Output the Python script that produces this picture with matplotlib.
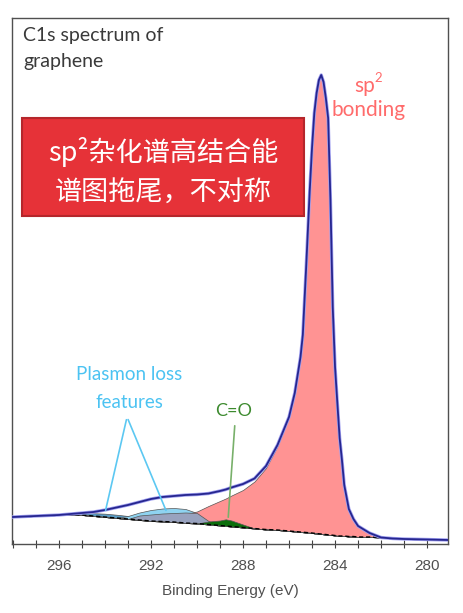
import matplotlib
matplotlib.use("Agg")
import matplotlib.pyplot as plt
from matplotlib.patches import Rectangle
from matplotlib.ticker import MultipleLocator

# binding energy grid (eV)
energy = [298.0, 297.5, 297.0, 296.5, 296.0, 295.5, 295.0, 294.5, 294.0, 293.5,
          293.0, 292.5, 292.0, 291.5, 291.0, 290.5, 290.0, 289.5, 289.0, 288.75,
          288.5, 288.0, 287.5, 287.0, 286.5, 286.0, 285.75, 285.5, 285.4, 285.25,
          285.1, 285.0, 284.9, 284.8, 284.7, 284.6, 284.5, 284.4, 284.3, 284.2,
          284.1, 284.0, 283.9, 283.8, 283.7, 283.6, 283.4, 283.2, 283.0, 282.5,
          282.0, 281.5, 281.0, 280.0, 279.1]

envelope = [2600, 2650, 2700, 2750, 2800, 2900, 3000, 3100, 3300, 3550,
            3800, 4100, 4400, 4600, 4700, 4800, 4850, 4950, 5200, 5350,
            5550, 5900, 6450, 7700, 9800, 12600, 15000, 18600, 20800, 27800,
            35200, 39500, 43000, 45000, 46300, 46800, 46100, 44500, 42500, 34300,
            23600, 17600, 14000, 10500, 8300, 5800, 3400, 2400, 1700, 1000,
            550, 450, 400, 350, 300]

# Shirley background
background = [2600, 2650, 2700, 2750, 2800, 2850, 2800, 2700, 2600, 2500,
              2400, 2300, 2200, 2150, 2100, 2000, 1950, 1850, 1750, 1700,
              1650, 1550, 1450, 1350, 1300, 1200, 1150, 1100, 1080, 1050,
              1020, 1000, 970, 950, 920, 900, 870, 850, 820, 800,
              780, 750, 720, 700, 700, 700, 650, 650, 600, 600,
              550, 450, 400, 350, 300]

# fitted components (upper edge)
sp2 = [2600, 2650, 2700, 2750, 2800, 2850, 2800, 2700, 2600, 2500,
       2400, 2300, 2400, 2550, 2700, 2900, 3150, 3700, 4200, 4450,
       4750, 5300, 6150, 7500, 9700, 12600, 15000, 18600, 20800, 27800,
       35200, 39500, 43000, 45000, 46300, 46800, 46100, 44500, 42500, 34300,
       23600, 17600, 14000, 10500, 8300, 5800, 3400, 2400, 1700, 1000,
       550, 450, 400, 350, 300]

plasmon_far = [2600, 2650, 2700, 2750, 2800, 2900, 2950, 2980, 2930, 2830,
               2700, 2500, 2280, 2150, 2100, 2000, 1950, 1850, 1750, 1700,
               1650, 1550, 1450, 1350, 1300, 1200, 1150, 1100, 1080, 1050,
               1020, 1000, 970, 950, 920, 900, 870, 850, 820, 800,
               780, 750, 720, 700, 700, 700, 650, 650, 600, 600,
               550, 450, 400, 350, 300]

plasmon_near = [2600, 2650, 2700, 2750, 2800, 2850, 2800, 2700, 2600, 2500,
                2700, 3050, 3300, 3450, 3500, 3400, 3000, 2500, 2000, 1700,
                1650, 1550, 1450, 1350, 1300, 1200, 1150, 1100, 1080, 1050,
                1020, 1000, 970, 950, 920, 900, 870, 850, 820, 800,
                780, 750, 720, 700, 700, 700, 650, 650, 600, 600,
                550, 450, 400, 350, 300]

shakeup = [2600, 2650, 2700, 2750, 2800, 2850, 2800, 2700, 2600, 2500,
           2400, 2750, 2850, 2950, 3000, 3050, 3000, 2200, 1750, 1700,
           1650, 1550, 1450, 1350, 1300, 1200, 1150, 1100, 1080, 1050,
           1020, 1000, 970, 950, 920, 900, 870, 850, 820, 800,
           780, 750, 720, 700, 700, 700, 650, 650, 600, 600,
           550, 450, 400, 350, 300]

c_o = [2600, 2650, 2700, 2750, 2800, 2850, 2800, 2700, 2600, 2500,
       2400, 2300, 2200, 2150, 2100, 2000, 1950, 2150, 2250, 2370,
       2250, 1850, 1450, 1350, 1300, 1200, 1150, 1100, 1080, 1050,
       1020, 1000, 970, 950, 920, 900, 870, 850, 820, 800,
       780, 750, 720, 700, 700, 700, 650, 650, 600, 600,
       550, 450, 400, 350, 300]

xticks_major = [296, 292, 288, 284, 280]

W, H = 464, 613
plt.rcParams['font.family'] = ['Lato', 'Noto Sans CJK SC', 'DejaVu Sans']

fig = plt.figure(figsize=(W / 100, H / 100), dpi=100)
ax = fig.add_axes([12 / W, 1 - 544 / H, 436 / W, 526 / H])


def fx(x):
    return x / W


def fy(y):
    return 1 - y / H


edge = dict(edgecolor='#555555', linewidth=0.5)
ax.fill_between(energy, background, plasmon_far, facecolor='#5a9cc4', zorder=1, **edge)
ax.fill_between(energy, background, plasmon_near, facecolor='#8fd3f0', zorder=2, **edge)
ax.fill_between(energy, background, sp2, facecolor='#ff9393', zorder=3, **edge)
ax.fill_between(energy, background, shakeup, facecolor='#98a2be', zorder=4, **edge)
ax.fill_between(energy, background, c_o, facecolor='#0b6e0b', zorder=5, **edge)
ax.plot(energy, background, color='black', lw=1, ls=(0, (3, 2)), zorder=6)
ax.plot(energy, envelope, color='#a0a0f0', lw=2.4, zorder=7)
ax.plot(energy, envelope, color='#26268f', lw=1.3, zorder=8)

ax.set_xlim(298.04, 279.09)
ax.set_ylim(-100, 52500)
ax.set_yticks([])
ax.set_xticks(xticks_major)
ax.xaxis.set_minor_locator(MultipleLocator(1))
ax.tick_params(axis='x', which='both', direction='inout', length=6, width=0.8,
               color='#404040', labelsize=11, labelcolor='#505050', pad=8)
for lbl in ax.get_xticklabels():
    lbl.set_family('Liberation Sans')
for s in ax.spines.values():
    s.set_color('#505050')
    s.set_linewidth(1)
ax.set_xlabel('Binding Energy (eV)', family='Liberation Sans', fontsize=11,
              color='#505050', labelpad=8)

# annotations
fig.text(fx(23), fy(35), 'C1s spectrum of', fontsize=14, color='#3a3a3a',
         ha='left', va='center')
fig.text(fx(23), fy(62), 'graphene', fontsize=14, color='#3a3a3a',
         ha='left', va='center')
fig.text(fx(375), fy(86), 'sp', fontsize=15, color='#ff6b6b', ha='right', va='center')
fig.text(fx(374), fy(78), '2', fontsize=9.5, color='#ff6b6b', ha='left', va='center')
fig.text(fx(369), fy(110), 'bonding', fontsize=15, color='#ff6b6b', ha='center', va='center')

fig.patches.append(Rectangle((fx(22), fy(216)), 282 / W, 98 / H, transform=fig.transFigure,
                             facecolor='#e63238', edgecolor='#b5262b', lw=1.5))
fig.text(fx(163), fy(152), 'sp²杂化谱高结合能', fontsize=19.5, color='white',
         ha='center', va='center', family=['Noto Sans CJK SC', 'DejaVu Sans'])
fig.text(fx(163), fy(193), '谱图拖尾，不对称', fontsize=19.5, color='white',
         ha='center', va='center', family=['Noto Sans CJK SC', 'DejaVu Sans'])

fig.text(fx(129), fy(375), 'Plasmon loss', fontsize=13.5, color='#4cc3f2', ha='center', va='center')
fig.text(fx(129), fy(402), 'features', fontsize=13.5, color='#4cc3f2', ha='center', va='center')
ax.annotate('', xy=(294.0, 3000), xytext=(293.04, 12600),
            arrowprops=dict(arrowstyle='-', color='#5cc8f2', lw=1.2), zorder=9)
ax.annotate('', xy=(291.3, 3000), xytext=(293.04, 12600),
            arrowprops=dict(arrowstyle='-', color='#5cc8f2', lw=1.2), zorder=9)

fig.text(fx(234), fy(411), 'C=O', fontsize=13, color='#3c8a2e', ha='center', va='center')
ax.annotate('', xy=(288.65, 2300), xytext=(288.35, 12000),
            arrowprops=dict(arrowstyle='-', color='#78b06a', lw=1.2), zorder=9)

fig.savefig('out.png', dpi=100)
